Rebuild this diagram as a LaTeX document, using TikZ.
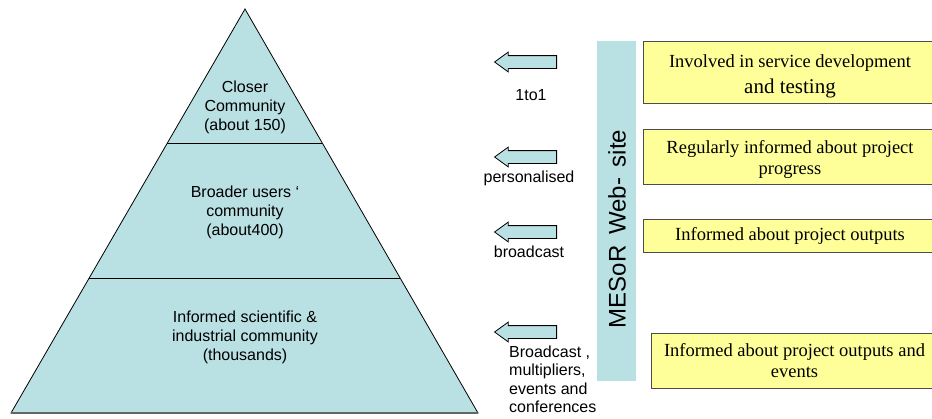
\documentclass[tikz,border=0pt]{standalone}
\usepackage{fontspec}
\setmainfont{Liberation Serif}
\setsansfont{Liberation Sans}
\usetikzlibrary{shapes.arrows}
\definecolor{pyrblue}{RGB}{185,224,227}
\definecolor{boxyellow}{RGB}{255,255,153}

\begin{document}
\begin{tikzpicture}[x=1pt, y=-1pt,
    layertext/.style={font=\sffamily\fontsize{16}{19}\selectfont, align=center},
    channel/.style={single arrow, shape border rotate=180, fill=pyrblue, draw=black, line width=0.8pt,
        minimum height=62pt, minimum width=19pt, single arrow head extend=3.5pt,
        single arrow tip angle=72, inner xsep=0pt, inner ysep=6pt},
    channeltext/.style={font=\sffamily\fontsize{16}{18.5}\selectfont, inner sep=0pt},
    infobox/.style={rectangle, fill=boxyellow, draw=black!70, line width=1pt, align=center,
        font=\fontsize{18.5}{21}\selectfont, inner sep=0pt}]
    \useasboundingbox (0,0) rectangle (932,418);
    \clip (0,0) rectangle (932,418);

    % Draw pyramid
    \coordinate (apex) at (245, 9);
    \coordinate (baseL) at (11, 413);
    \coordinate (baseR) at (478, 413);
    \filldraw[fill=pyrblue, draw=black, line width=0.8pt] (apex) -- (baseL) -- (baseR) -- cycle;
    \draw[black!60, line width=2pt] (baseL) -- (baseR);
    \draw[line width=0.8pt] (167.4, 143) -- (322.3, 143);
    \draw[line width=0.8pt] (89.2, 278) -- (400.1, 278);

    % Layers of the pyramid
    \node (closer) at (245, 107) [layertext] {Closer\\Community\\(about 150)};
    \node (broader) at (245, 212) [layertext] {Broader users `\\community\\(about400)};
    \node (informed) at (245, 337) [layertext] {Informed scientific \&\\industrial community\\(thousands)};

    % Draw arrows with channel names
    \node (a1) at (530, 62) [channel] {};
    \node (a2) at (530, 157) [channel] {};
    \node (a3) at (530, 232) [channel] {};
    \node (a4) at (530, 332) [channel] {};
    \node (t1) at (531, 95) [channeltext] {1to1};
    \node (t2) at (529, 178) [channeltext] {personalised};
    \node (t3) at (529, 252) [channeltext] {broadcast};
    \node (t4) at (509, 379.5) [channeltext, anchor=west, align=left] {Broadcast ,\\multipliers,\\events and\\conferences};

    % Web-site bar
    \node (web) at (616.5, 211) [rectangle, fill=pyrblue, minimum width=39pt, minimum height=340pt, inner sep=0pt] {};
    \node (webtext) at (617, 229) [rotate=90, font=\sffamily\fontsize{24}{28}\selectfont, inner sep=0pt] {MESoR\, Web-\, site};

    % Information boxes
    \node (b1) at (790, 72) [infobox, minimum width=294pt, minimum height=62pt] {\rule{0pt}{21pt}Involved in service development\\[5pt]{\fontsize{21}{24}\selectfont and testing}};
    \node (b2) at (790, 156.5) [infobox, minimum width=294pt, minimum height=55pt] {\rule{0pt}{18pt}Regularly informed about project\\progress};
    \node (b3) at (790, 235.5) [infobox, minimum width=294pt, minimum height=33pt] {Informed about project outputs};
    \node (b4) at (794.5, 360.5) [infobox, minimum width=287pt, minimum height=55pt] {Informed about project outputs and\\events};
\end{tikzpicture}
\end{document}
